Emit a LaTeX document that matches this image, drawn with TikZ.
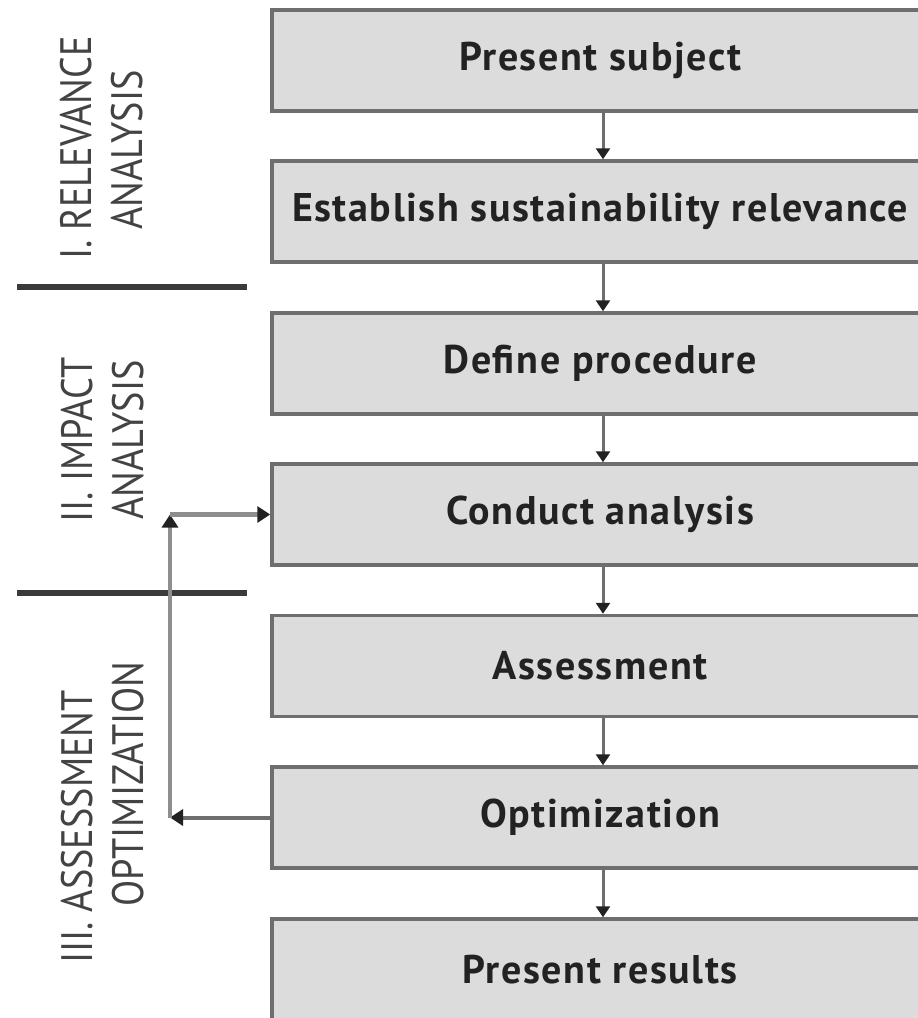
\documentclass[tikz,border=0pt]{standalone}
\usepackage{fontspec}
\usetikzlibrary{arrows.meta}
\newfontfamily\boxfont{PT Sans}[LetterSpace=4]
\newfontfamily\labfont{PT Sans}[FakeStretch=0.87]
\definecolor{boxfill}{HTML}{DCDCDC}
\definecolor{boxline}{HTML}{6E6E6E}
\definecolor{txt}{HTML}{222222}
\definecolor{fbline}{HTML}{8E8E8E}
\definecolor{sepline}{HTML}{3A3A3A}
\tikzset{
  stepbox/.style={draw=boxline, line width=3.5pt, fill=boxfill, inner sep=0pt,
    minimum width=656pt, minimum height=101pt, text=txt,
    font=\boxfont\bfseries\fontsize{40}{42}\selectfont},
  lab/.style={rotate=90, inner sep=0pt, text=txt!85!white,
    font=\labfont\fontsize{44}{46}\selectfont},
  flow/.style={draw=boxline, line width=3pt,
    -{Triangle[width=14pt,length=11pt,color=txt]}},
  fb/.style={draw=fbline, line width=4.5pt,
    -{Triangle[width=16pt,length=13pt,color=txt]}},
  sep/.style={draw=sepline, line width=6pt},
}
\begin{document}
\begin{tikzpicture}[x=1pt,y=-1pt]
\clip (0,0) rectangle (918,1018);
\fill[white] (0,0) rectangle (918,1018);
% boxes
\node[stepbox] (b1) at (600,60.5) {Present subject};
\node[stepbox] (b2) at (600,211.5) {Establish sustainability relevance};
\node[stepbox] (b3) at (600,363.5) {Define procedure};
\node[stepbox] (b4) at (600,514.5) {Conduct analysis};
\node[stepbox] (b5) at (600,666) {Assessment};
\node[stepbox] (b6) at (600,817.5) {Optimization};
\node[stepbox] (b7) at (600,969.5) {Present results};
% flow arrows
\foreach \a/\b in {b1/b2,b2/b3,b3/b4,b4/b5,b5/b6,b6/b7}{
  \draw[flow] ([xshift=3pt]\a.south) -- ([xshift=3pt]\b.north);
}
% separators
\draw[sep] (17,287) -- (247,287);
\draw[sep] (17,593) -- (247,593);
% feedback loop
\coordinate (fbL) at (170,817.5);
\coordinate (fbT) at (170,514.5);
\draw[fb, draw=boxline, line width=4pt] (b6.west) -- (fbL);
\draw[fb] (fbL) -- (fbT);
\draw[fb] (fbT) -- (b4.west);
% section labels
\node[lab] (l1a) at (76,148) {I. RELEVANCE};
\node[lab] (l1b) at (127,150) {ANALYSIS};
\node[lab] (l2a) at (77,440) {II. IMPACT};
\node[lab] (l2b) at (128,440) {ANALYSIS};
\node[lab] (l3a) at (77,827) {III. ASSESSMENT};
\node[lab] (l3b) at (128,784) {OPTIMIZATION};
\end{tikzpicture}
\end{document}
